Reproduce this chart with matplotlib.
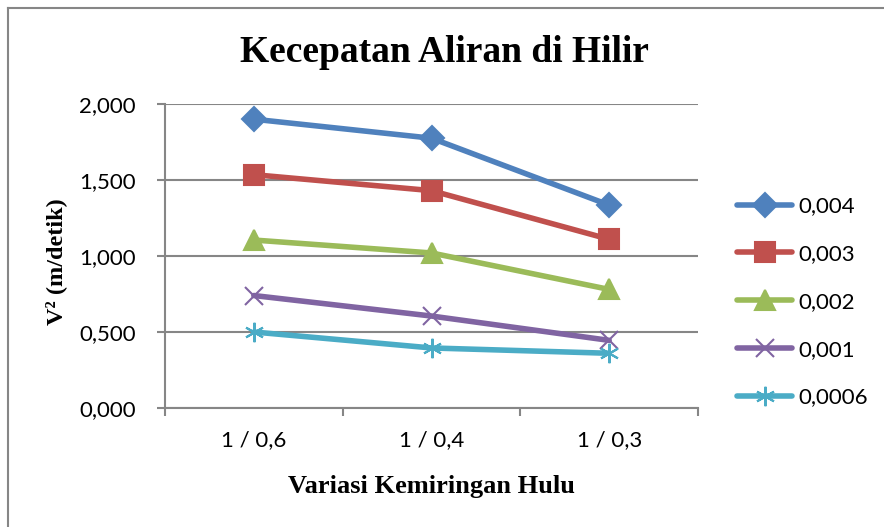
import matplotlib.pyplot as plt
from matplotlib.lines import Line2D

categories = ['1 / 0,6', '1 / 0,4', '1 / 0,3']
series_names = ['0,004', '0,003', '0,002', '0,001', '0,0006']
v_0004 = [1.900, 1.775, 1.335]
v_0003 = [1.535, 1.430, 1.110]
v_0002 = [1.105, 1.020, 0.780]
v_0001 = [0.740, 0.605, 0.445]
v_00006 = [0.500, 0.395, 0.360]
yticks = [0.0, 0.5, 1.0, 1.5, 2.0]
ytick_labels = ['0,000', '0,500', '1,000', '1,500', '2,000']

colors = ['#4F81BD', '#C0504D', '#9BBB59', '#8064A2', '#4BACC6']
markers = ['D', 's', '^', 'x', (6, 2, 0)]
msizes = [12, 14, 14, 13, 14]

fig = plt.figure(figsize=(8.84, 5.27), dpi=100)
ax = fig.add_axes([165/884, 1-408/527, 533/884, 304/527])

x = range(len(categories))
for vals, name, c, m, ms in zip([v_0004, v_0003, v_0002, v_0001, v_00006],
                                series_names, colors, markers, msizes):
    ax.plot(x, vals, color=c, lw=4, marker=m, ms=ms, mew=1.5,
            mfc=c, mec=c, label=name, solid_capstyle='round')

ax.set_xlim(-0.5, 2.5)
ax.set_ylim(0, 2.0)
ax.set_yticks(yticks)
ax.set_yticklabels(ytick_labels, fontsize=16, family='Lato')
ax.set_xticks(list(x))
ax.set_xticklabels(categories, fontsize=16, family='Lato')
ax.set_xticks([-0.5, 0.5, 1.5, 2.5], minor=True)
ax.tick_params(axis='x', which='major', length=0, pad=16)
ax.tick_params(axis='x', which='minor', length=6, color='#868686', width=1.5)
ax.tick_params(axis='y', length=6, color='#868686', width=1.5, pad=15)
ax.grid(axis='y', color='#868686', lw=1.5)
ax.set_axisbelow(True)
for s in ['top', 'right']:
    ax.spines[s].set_visible(False)
for s in ['left', 'bottom']:
    ax.spines[s].set_color('#868686')
    ax.spines[s].set_linewidth(1.5)

fig.text(444/884, 1-53/527, 'Kecepatan Aliran di Hilir', ha='center', va='center',
         fontsize=27, fontweight='bold', family='Liberation Serif')
fig.text(431/884, 1-486/527, 'Variasi Kemiringan Hulu', ha='center', va='center',
         fontsize=19, fontweight='bold', family='Liberation Serif')
fig.text(56/884, 1-262/527, 'V² (m/detik)', ha='center', va='center', rotation=90,
         fontsize=17.5, fontweight='bold', family='Liberation Serif')

ax.legend(loc='center left', bbox_to_anchor=(728/884, 1-302/527),
          bbox_transform=fig.transFigure, frameon=False,
          prop={'family': 'Lato', 'size': 16}, handlelength=2.5,
          handletextpad=0.25, labelspacing=1.25, borderaxespad=0)

fig.add_artist(Line2D([8/884, 8/884], [0, 1-8/527], color='#868686', lw=1.5,
                      transform=fig.transFigure))
fig.add_artist(Line2D([8/884, 1], [1-8/527, 1-8/527], color='#868686', lw=1.5,
                      transform=fig.transFigure))

fig.savefig('out.png', dpi=100)
